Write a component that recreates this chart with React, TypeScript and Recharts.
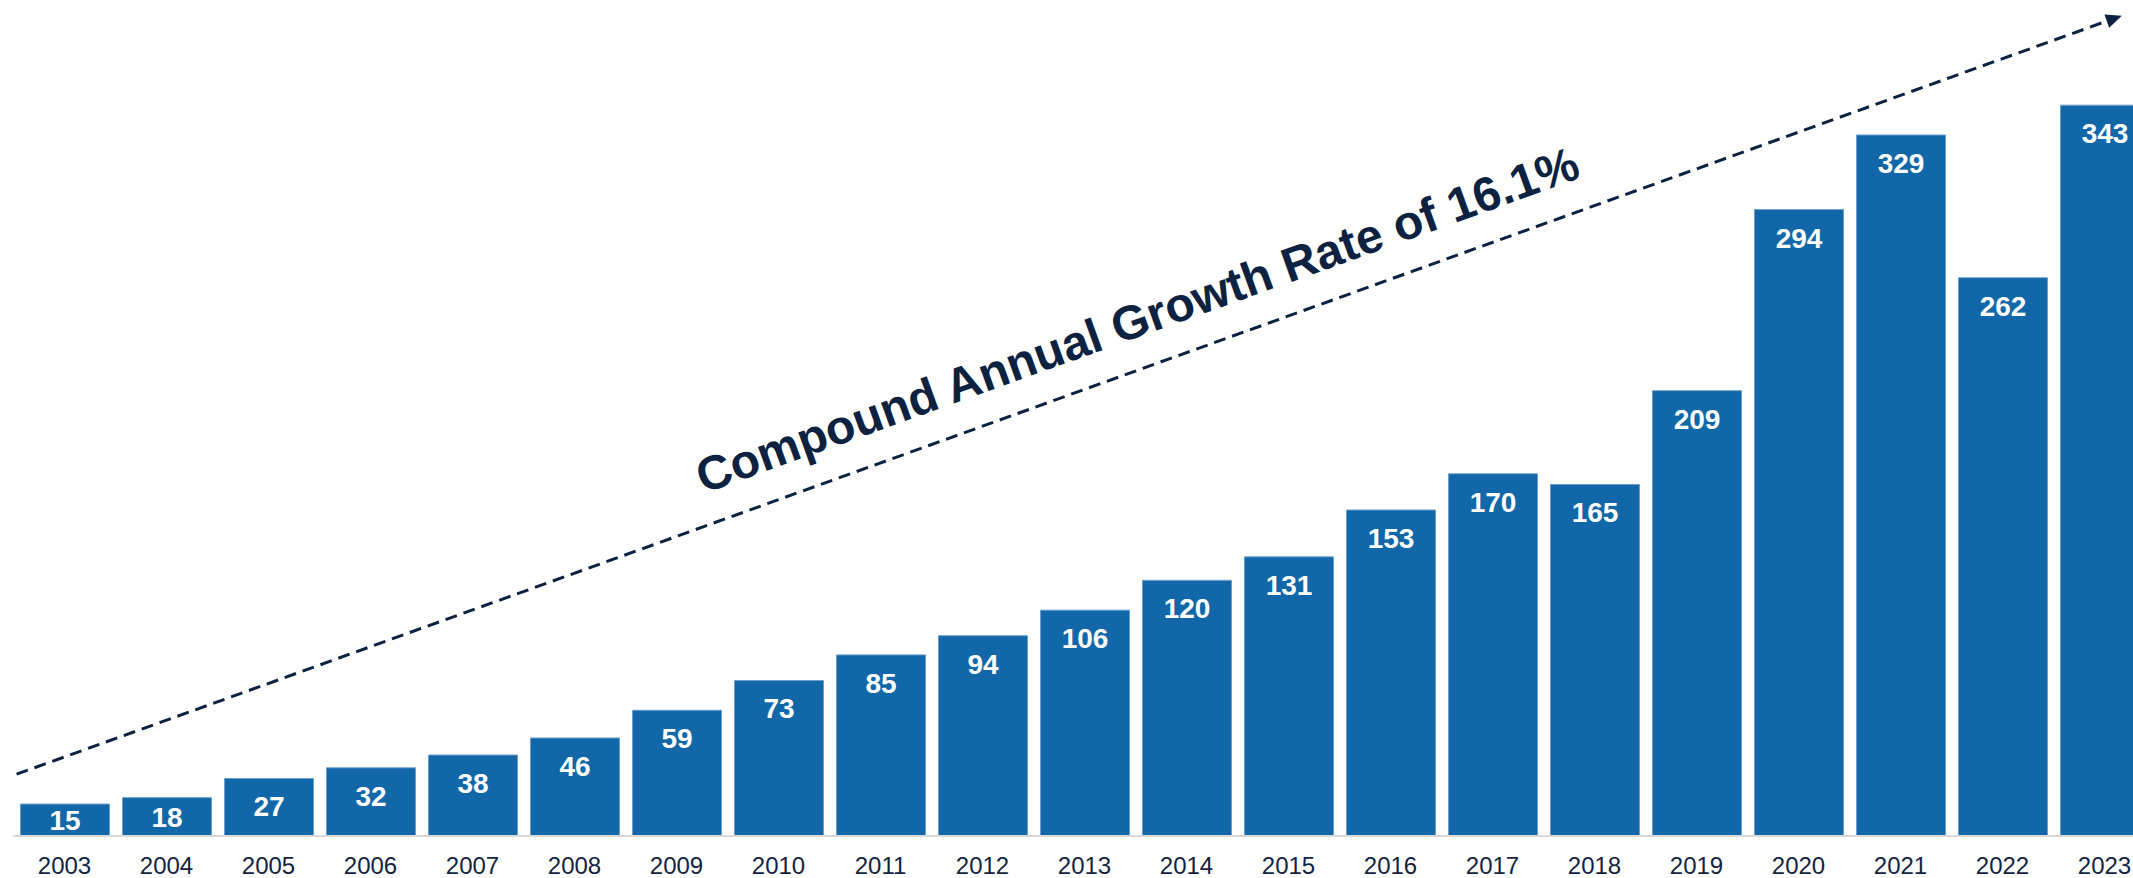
import React from 'react';
import { BarChart, Bar, XAxis, YAxis, LabelList, ReferenceLine } from 'recharts';

const years = ['2003', '2004', '2005', '2006', '2007', '2008', '2009', '2010', '2011', '2012', '2013', '2014', '2015', '2016', '2017', '2018', '2019', '2020', '2021', '2022', '2023'];
const values = [15, 18, 27, 32, 38, 46, 59, 73, 85, 94, 106, 120, 131, 153, 170, 165, 209, 294, 329, 262, 343];

// trend arrow, in data units (x = position in categories, y = value)
const trendStart = { x: -0.47, y: 29 };
const trendEnd = { x: 20.17, y: 385 };
const trendLabel = 'Compound Annual Growth Rate of 16.1%';

const data = years.map((year, i) => ({ year, idx: i, value: values[i] }));

const NAVY = '#0d2240';
const FONT = '"Liberation Sans", Arial, sans-serif';

const ValueLabel = (props: any) => {
  const { x, y, width, height, value } = props;
  const cy = y + Math.min(28, height / 2);
  return (
    <text x={x + width / 2} y={cy + 10} textAnchor="middle" fill="#fff" fontSize={28} fontWeight="bold" fontFamily={FONT}>
      {value}
    </text>
  );
};

const TrendArrow = (props: any) => {
  const { x1, y1, x2, y2 } = props;
  const dx = x2 - x1;
  const dy = y2 - y1;
  const len = Math.hypot(dx, dy);
  const ux = dx / len;
  const uy = dy / len;
  const nx = uy;
  const ny = -ux;
  const head = 16;
  const half = 7;
  const bx = x2 - ux * head;
  const by = y2 - uy * head;
  const tx = x1 + dx * 0.54 + nx * 31;
  const ty = y1 + dy * 0.54 + ny * 31;
  const angle = (Math.atan2(dy, dx) * 180) / Math.PI;
  return (
    <g>
      <line x1={x1} y1={y1} x2={bx} y2={by} stroke={NAVY} strokeWidth={3} strokeDasharray="12 7" />
      <polygon points={`${x2},${y2} ${bx + nx * half},${by + ny * half} ${bx - nx * half},${by - ny * half}`} fill={NAVY} />
      <text x={tx} y={ty} transform={`rotate(${angle} ${tx} ${ty})`} textAnchor="middle" fill={NAVY} fontSize={48} fontWeight="bold" fontFamily={FONT}>
        {trendLabel}
      </text>
    </g>
  );
};

const App: React.FC = () => {
  return (
    <div style={{ position: 'absolute', left: 0, top: 0, width: 2133, height: 878, overflow: 'hidden', background: '#fff', fontFamily: FONT }}>
      <BarChart width={2160} height={878} data={data} margin={{ top: 5, right: 4.5, left: 13.5, bottom: 0 }}>
        <XAxis
          dataKey="year"
          height={42}
          tickLine={false}
          tickMargin={15}
          axisLine={{ stroke: '#d9d9d9', strokeWidth: 2 }}
          tick={{ fill: '#14233f', fontSize: 24, fontFamily: FONT }}
          interval={0}
        />
        <XAxis
          xAxisId="pos"
          dataKey="idx"
          type="number"
          domain={[-0.5, 20.5]}
          allowDataOverflow
          padding={{ left: 0, right: 0 }}
          hide
        />
        <YAxis hide domain={[0, 390]} />
        <Bar dataKey="value" fill="#1167a8" stroke="#6e9fcc" strokeWidth={1} barSize={89} isAnimationActive={false}>
          <LabelList dataKey="value" content={ValueLabel} />
        </Bar>
        <ReferenceLine
          xAxisId="pos"
          segment={[trendStart, trendEnd]}
          ifOverflow="visible"
          shape={TrendArrow}
        />
      </BarChart>
    </div>
  );
};

export default App;
